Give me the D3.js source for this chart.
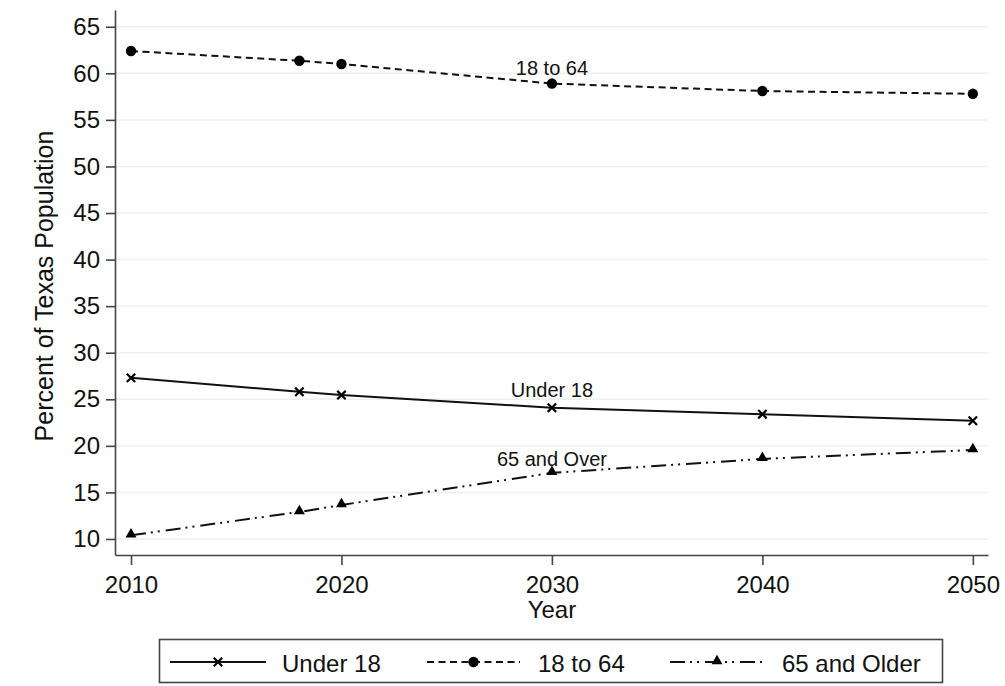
<!DOCTYPE html>
<html>
<head>
<meta charset="utf-8">
<script src="https://cdn.jsdelivr.net/npm/d3@7"></script>
<style>
  body { margin: 0; background: #fff; }
  svg { font-family: Arial, "Liberation Sans", sans-serif; }
</style>
</head>
<body>
<div id="chart"></div>
<script>
const years = [2010, 2018, 2020, 2030, 2040, 2050];
const under18 = [27.3, 25.8, 25.45, 24.1, 23.4, 22.7];
const age18to64 = [62.4, 61.35, 61.0, 58.9, 58.1, 57.8];
const age65plus = [10.4, 12.9, 13.65, 17.1, 18.6, 19.55];
const yTicks = [10, 15, 20, 25, 30, 35, 40, 45, 50, 55, 60, 65];
const xTicks = [2010, 2020, 2030, 2040, 2050];
const seriesNames = ["Under 18", "18 to 64", "65 and Older"];
const lineLabels = ["Under 18", "18 to 64", "65 and Over"];

const series = [
  { values: under18, dash: null, marker: "x", labelAt: 25.25 },
  { values: age18to64, dash: "7,4.5", marker: "circle", labelAt: 59.85 },
  { values: age65plus, dash: "15,5,2,5,2,6", marker: "triangle", labelAt: 17.85 }
];

const W = 1005, H = 686;
const margin = { top: 10, right: 17, bottom: 131, left: 115 };

const svg = d3.select("#chart").append("svg")
  .attr("width", W)
  .attr("height", H);

const x = d3.scaleLinear().domain([2009.24, 2050.72]).range([margin.left, W - margin.right]);
const y = d3.scaleLinear().domain([8.28, 66.8]).range([H - margin.bottom, margin.top]);

// grid
svg.append("g")
  .selectAll("line")
  .data(yTicks)
  .join("line")
  .attr("x1", margin.left)
  .attr("x2", W - margin.right)
  .attr("y1", d => y(d))
  .attr("y2", d => y(d))
  .attr("stroke", "#e9f1f3")
  .attr("stroke-width", 1.5);

// axes
const yAxis = svg.append("g")
  .attr("transform", `translate(${margin.left},0)`)
  .call(d3.axisLeft(y).tickValues(yTicks).tickSize(9).tickPadding(6).tickSizeOuter(0));
const xAxis = svg.append("g")
  .attr("transform", `translate(0,${H - margin.bottom})`)
  .call(d3.axisBottom(x).tickValues(xTicks).tickFormat(d3.format("d")).tickSize(10).tickSizeOuter(0));

[yAxis, xAxis].forEach(a => {
  a.select(".domain").attr("stroke", "#444").attr("stroke-width", 1.6);
  a.selectAll(".tick line").attr("stroke", "#444").attr("stroke-width", 1.6);
  a.selectAll(".tick text").attr("font-size", 24).attr("fill", "#111")
    .attr("font-family", "Arial, 'Liberation Sans', sans-serif");
});
xAxis.selectAll(".tick text").attr("dy", null).attr("y", 38);

// lines
const line = d3.line()
  .x((d, i) => x(years[i]))
  .y(d => y(d));

series.forEach(s => {
  svg.append("path")
    .datum(s.values)
    .attr("fill", "none")
    .attr("stroke", "#111")
    .attr("stroke-width", 2)
    .attr("stroke-dasharray", s.dash)
    .attr("d", line);
});

function drawMarker(g, type, cx, cy) {
  if (type === "circle") {
    g.append("circle").attr("cx", cx).attr("cy", cy).attr("r", 5.2).attr("fill", "#000");
  } else if (type === "triangle") {
    g.append("path")
      .attr("d", d3.symbol().type(d3.symbolTriangle).size(52)())
      .attr("transform", `translate(${cx},${cy - 1})`)
      .attr("fill", "#000");
  } else {
    const r = 4.2;
    g.append("path")
      .attr("d", `M${cx - r},${cy - r}L${cx + r},${cy + r}M${cx - r},${cy + r}L${cx + r},${cy - r}`)
      .attr("stroke", "#000")
      .attr("stroke-width", 2.2);
  }
}

series.forEach(s => {
  const g = svg.append("g");
  s.values.forEach((v, i) => drawMarker(g, s.marker, x(years[i]), y(v)));
});

// series labels
series.forEach((s, i) => {
  svg.append("text")
    .attr("x", x(2030))
    .attr("y", y(s.labelAt))
    .attr("text-anchor", "middle")
    .attr("font-size", 20)
    .attr("fill", "#111")
    .text(lineLabels[i]);
});

// axis titles
svg.append("text")
  .attr("transform", "rotate(-90)")
  .attr("x", -286)
  .attr("y", 53)
  .attr("text-anchor", "middle")
  .attr("font-size", 25)
  .attr("fill", "#111")
  .text("Percent of Texas Population");

svg.append("text")
  .attr("x", x(2030))
  .attr("y", 618)
  .attr("text-anchor", "middle")
  .attr("font-size", 24)
  .attr("fill", "#111")
  .text("Year");

// legend
const legend = svg.append("g");
legend.append("rect")
  .attr("x", 159.5).attr("y", 639.5)
  .attr("width", 783).attr("height", 43)
  .attr("fill", "#fff")
  .attr("stroke", "#444")
  .attr("stroke-width", 1.6);

const legendItems = [
  { x0: 170, x1: 266, tx: 282 },
  { x0: 427, x1: 520, tx: 538 },
  { x0: 670, x1: 764, tx: 782 }
];
const ly = 662;
series.forEach((s, i) => {
  const it = legendItems[i];
  legend.append("line")
    .attr("x1", it.x0).attr("x2", it.x1)
    .attr("y1", ly).attr("y2", ly)
    .attr("stroke", "#111")
    .attr("stroke-width", 2)
    .attr("stroke-dasharray", s.dash);
  drawMarker(legend, s.marker, (it.x0 + it.x1) / 2, ly);
  legend.append("text")
    .attr("x", it.tx)
    .attr("y", 672)
    .attr("font-size", 24)
    .attr("fill", "#111")
    .text(seriesNames[i]);
});
</script>
</body>
</html>
